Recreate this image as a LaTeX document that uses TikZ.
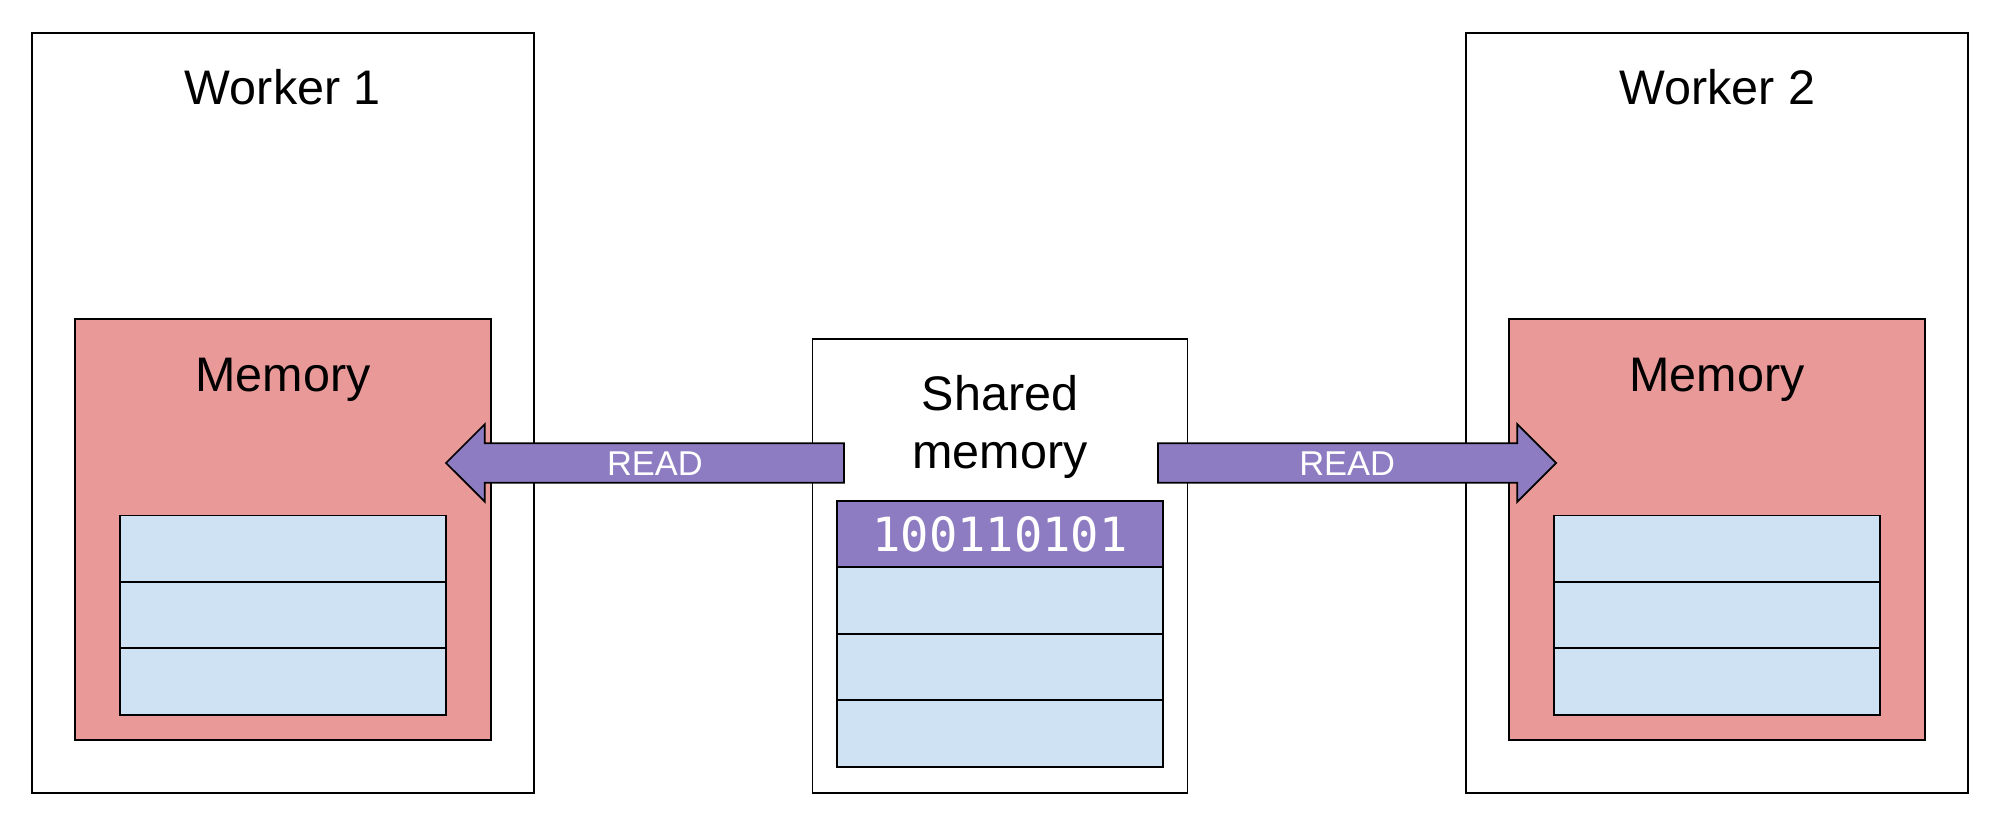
\documentclass[tikz,border=0pt]{standalone}
\usepackage{fontspec}
\setmainfont{Liberation Sans}
\newfontfamily\binfont{DejaVu Sans Mono}
\usetikzlibrary{shapes.arrows}

\definecolor{memred}{HTML}{EA9999}
\definecolor{cellblue}{HTML}{CFE2F3}
\definecolor{readpurple}{HTML}{8E7CC3}

\tikzset{
  outline/.style={draw, line width=0.5pt, inner sep=0pt, outer sep=0pt},
  workerbox/.style={outline, minimum width=5.021cm, minimum height=7.599cm},
  membox/.style={outline, fill=memred, minimum width=4.164cm, minimum height=4.214cm},
  cell/.style={outline, fill=cellblue, minimum width=3.26cm, minimum height=0.665cm},
  title/.style={font=\fontsize{13.8}{16.5}\selectfont, anchor=base, inner sep=0pt},
  readarrow/.style={single arrow, draw, line width=0.5pt, fill=readpurple, text=white,
    font=\fontsize{9.8}{11}\selectfont, text height=7pt, text depth=0pt, inner ysep=1.86pt,
    single arrow head extend=0.19cm, single arrow tip angle=90, minimum height=3.98cm, outer sep=0pt},
}

\begin{document}
\begin{tikzpicture}
\useasboundingbox (0,0) rectangle (20,-8.29);
\begin{scope}[shift={(2.829,0)}]
\node[workerbox] (worker1) at (0,-4.133) {};
\node[title] (worker1label) at (0,-1.042) {Worker 1};
\node[membox] (mem1) at (0,-5.296) {};
\node[title] (mem1label) at (0,-3.913) {Memory};
\node[cell] (mem1a) at (0,-5.487) {};
\node[cell] (mem1b) at (0,-6.150) {};
\node[cell] (mem1c) at (0,-6.817) {};
\end{scope}
\begin{scope}[shift={(17.171,0)}]
\node[workerbox] (worker2) at (0,-4.133) {};
\node[title] (worker2label) at (0,-1.042) {Worker 2};
\node[membox] (mem2) at (0,-5.296) {};
\node[title] (mem2label) at (0,-3.913) {Memory};
\node[cell] (mem2a) at (0,-5.487) {};
\node[cell] (mem2b) at (0,-6.150) {};
\node[cell] (mem2c) at (0,-6.817) {};
\end{scope}
% shared memory in the middle
\node[outline, minimum width=3.75cm, minimum height=4.537cm] (shared) at (10,-5.659) {};
\node[align=center, font=\fontsize{13.8}{16.5}\selectfont, inner sep=0pt] (sharedlabel) at (10,-4.27) {Shared\\memory};
\node[cell, fill=readpurple, text=white, font=\binfont\fontsize{13.4}{16}\selectfont] (shareda) at (10,-5.340) {100110101};
\node[cell] (sharedb) at (10,-6.004) {};
\node[cell] (sharedc) at (10,-6.670) {};
\node[cell] (sharedd) at (10,-7.335) {};
% reads
\node[readarrow, shape border rotate=180, anchor=tip] (read1) at (4.46,-4.63) {READ};
\node[readarrow, anchor=tip] (read2) at (15.56,-4.63) {READ};
\end{tikzpicture}
\end{document}
